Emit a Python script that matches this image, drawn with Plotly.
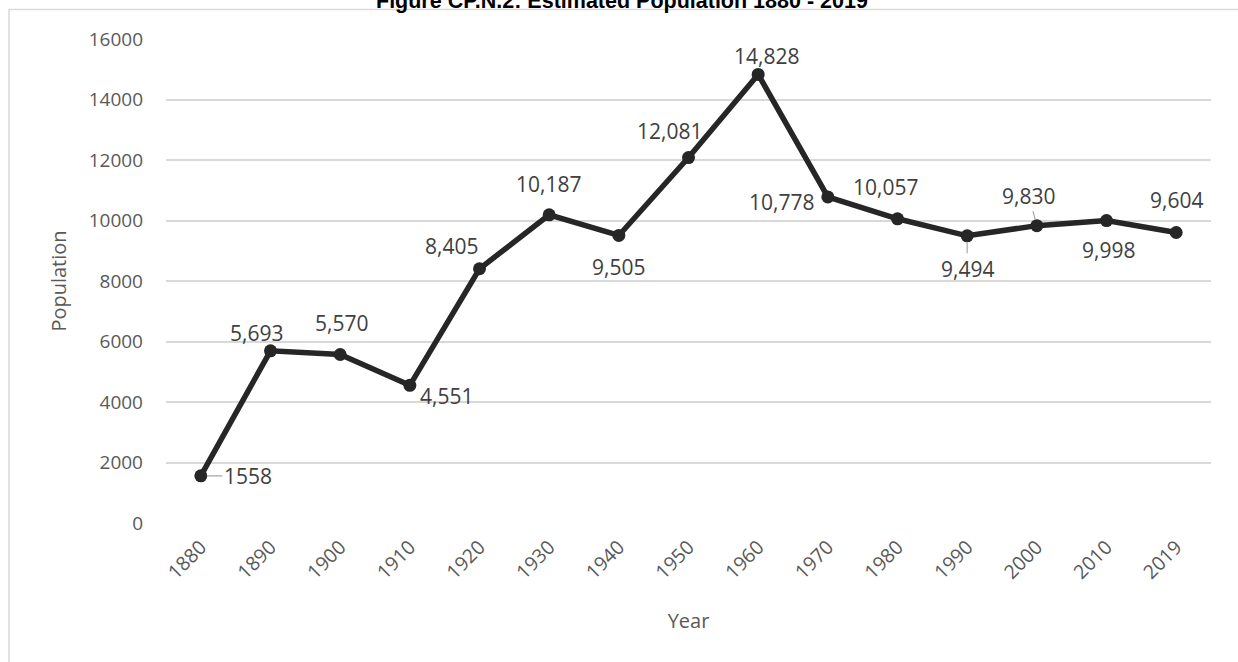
import plotly.graph_objects as go

years = ["1880", "1890", "1900", "1910", "1920", "1930", "1940", "1950",
         "1960", "1970", "1980", "1990", "2000", "2010", "2019"]
population = [1558, 5693, 5570, 4551, 8405, 10187, 9505, 12081,
              14828, 10778, 10057, 9494, 9830, 9998, 9604]
label_text = ["1558", "5,693", "5,570", "4,551", "8,405", "10,187", "9,505", "12,081",
              "14,828", "10,778", "10,057", "9,494", "9,830", "9,998", "9,604"]

# label placement (pixel offsets from point: dx right, dy down) and leader flags
label_offsets = [(47, 0), (-14, -18), (1, -32), (37, 11), (-28, -23), (-1, -31),
                 (0, 32), (-19, -27), (8, -18), (-46, 5), (-12, -32), (0, 33),
                 (-8, -30), (2, 29), (0, -32)]
leader = [True, False, False, False, False, False, False, False,
          False, False, False, True, True, False, False]

FONT = "Open Sans"
W, H = 1238, 662
L, R, T, B = 166, 27, 39, 139

fig = go.Figure()
fig.add_trace(go.Scatter(
    x=years, y=population, mode="lines+markers",
    line=dict(color="#262626", width=5.5),
    marker=dict(color="#262626", size=13),
    showlegend=False, hoverinfo="x+y",
))

annotations = []
for i, (val, txt, (dx, dy), ld) in enumerate(zip(population, label_text, label_offsets, leader)):
    if ld:
        annotations.append(dict(
            x=i, y=val, xref="x", yref="y", text=txt, showarrow=True,
            ax=dx, ay=dy, arrowhead=0, arrowwidth=1.2, arrowcolor="#a6a6a6",
            standoff=6, font=dict(family=FONT, size=21, color="#404040"),
        ))
    else:
        annotations.append(dict(
            x=i, y=val, xref="x", yref="y", text=txt, showarrow=False,
            xshift=dx, yshift=-dy, xanchor="center", yanchor="middle",
            font=dict(family=FONT, size=21, color="#404040"),
        ))

pw = W - L - R
ph = H - T - B
# title, partly cut off at the top of the page (as in the reference)
annotations.append(dict(
    x=(622 - L) / pw, y=1, xref="paper", yref="paper",
    text="<b>Figure CP.N.2: Estimated Population 1880 - 2019</b>",
    showarrow=False, xanchor="center", yanchor="middle", yshift=T - 1,
    font=dict(family="Liberation Sans", size=21.5, color="#000000"),
))

fig.add_shape(type="rect", xref="paper", yref="paper",
              x0=(9 - L) / pw, x1=(W + 5 - L) / pw,
              y0=-(H + 5 - T - ph) / ph, y1=(T + ph - 9.5) / ph,
              line=dict(color="#d9d9d9", width=1.5), layer="below")

fig.update_layout(
    width=W, height=H,
    margin=dict(l=L, r=R, t=T, b=B, pad=0),
    paper_bgcolor="white", plot_bgcolor="white",
    annotations=annotations,
    xaxis=dict(
        type="category", range=[-0.5, 14.5], showgrid=False, showline=False,
        ticks="", tickangle=-45, ticklabelstandoff=8,
        tickfont=dict(family=FONT, size=19.5, color="#595959"),
        title=dict(text="Year", font=dict(family=FONT, size=20, color="#595959"), standoff=30),
    ),
    yaxis=dict(
        range=[0, 16000], dtick=2000, showgrid=True, gridcolor="#d9d9d9", gridwidth=1.5,
        zeroline=False, showline=False, ticks="", tickformat="d", ticklabelstandoff=22,
        tickfont=dict(family=FONT, size=19, color="#595959"),
        title=dict(text="Population", font=dict(family=FONT, size=20, color="#595959"), standoff=16),
    ),
)

fig.write_html("out.html")
